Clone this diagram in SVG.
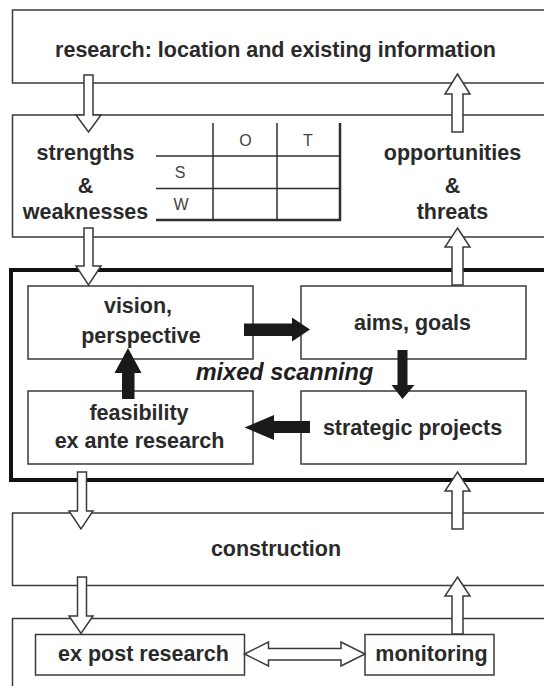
<svg xmlns="http://www.w3.org/2000/svg" width="544" height="686" viewBox="0 0 544 686">
  <defs>
    <style>
      .bg { fill: #ffffff; }
      .band { fill: #ffffff; stroke: #3a3a3a; stroke-width: 1.5; }
      .frame { fill: none; stroke: #111111; stroke-width: 4; }
      .box { fill: #ffffff; stroke: #3a3a3a; stroke-width: 1.5; }
      .hollow { fill: #ffffff; stroke: #3a3a3a; stroke-width: 1.5; stroke-linejoin: miter; }
      .solid { fill: #1a1a1a; stroke: none; }
      .grid { stroke: #2e2e2e; stroke-width: 1.5; fill: none; }
      .grid-bold { stroke: #2e2e2e; stroke-width: 2.5; fill: none; }
      .lbl { font-family: "Liberation Sans", Arial, sans-serif; font-size: 21.5px; font-weight: bold; fill: #2a2a2a; text-anchor: middle; }
      .em { font-family: "Liberation Sans", Arial, sans-serif; font-size: 23.5px; font-weight: bold; font-style: italic; fill: #1e1e1e; text-anchor: middle; }
      .cell { font-family: "Liberation Sans", Arial, sans-serif; font-size: 16px; fill: #444444; text-anchor: middle; }
    </style>
  </defs>

  <rect class="bg" x="0" y="0" width="544" height="686"/>

  <!-- horizontal bands (run off the right edge) -->
  <g id="research">
    <rect class="band" x="12.5" y="10" width="560" height="73"/>
    <text class="lbl" x="275.5" y="57">research: location and existing information</text>
  </g>

  <g id="swot">
    <rect class="band" x="12.5" y="115" width="560" height="122"/>
    <text class="lbl" x="85.5" y="160">strengths</text>
    <text class="lbl" x="85.5" y="193">&amp;</text>
    <text class="lbl" x="85.5" y="219">weaknesses</text>
    <text class="lbl" x="452.5" y="160">opportunities</text>
    <text class="lbl" x="452.5" y="193">&amp;</text>
    <text class="lbl" x="452.5" y="219">threats</text>
    <!-- SWOT matrix -->
    <line class="grid" x1="156" y1="156" x2="340" y2="156"/>
    <line class="grid" x1="156" y1="188.5" x2="340" y2="188.5"/>
    <line class="grid-bold" x1="156" y1="220" x2="341" y2="220"/>
    <line class="grid" x1="213" y1="123" x2="213" y2="220"/>
    <line class="grid" x1="277" y1="123" x2="277" y2="220"/>
    <line class="grid-bold" x1="340" y1="123" x2="340" y2="221"/>
    <text class="cell" x="245.5" y="146">O</text>
    <text class="cell" x="308" y="146">T</text>
    <text class="cell" x="180" y="178">S</text>
    <text class="cell" x="181" y="210">W</text>
  </g>

  <g id="mixed-scanning">
    <rect class="frame" x="11" y="270" width="570" height="210"/>
    <text class="em" x="284.5" y="380">mixed scanning</text>
  </g>

  <g id="vision">
    <rect class="box" x="28" y="286" width="225" height="73"/>
    <text class="lbl" x="138" y="313">vision,</text>
    <text class="lbl" x="141" y="343">perspective</text>
  </g>

  <g id="aims">
    <rect class="box" x="301" y="286" width="225" height="73"/>
    <text class="lbl" x="412.5" y="330">aims, goals</text>
  </g>

  <g id="feasibility">
    <rect class="box" x="28" y="391" width="225" height="73"/>
    <text class="lbl" x="139" y="420">feasibility</text>
    <text class="lbl" x="139.5" y="448">ex ante research</text>
  </g>

  <g id="projects">
    <rect class="box" x="301" y="391" width="225" height="73"/>
    <text class="lbl" x="412.5" y="435">strategic projects</text>
  </g>

  <g id="construction">
    <rect class="band" x="12.5" y="513" width="560" height="72.5"/>
    <text class="lbl" x="276" y="556">construction</text>
  </g>

  <g id="evaluation">
    <rect class="band" x="12.5" y="618.5" width="560" height="90"/>
  </g>

  <g id="ex-post">
    <rect class="box" x="35.5" y="634.5" width="209" height="40.5"/>
    <text class="lbl" x="143.5" y="661">ex post research</text>
  </g>

  <g id="monitoring">
    <rect class="box" x="365" y="634.5" width="129" height="40.5"/>
    <text class="lbl" x="431.5" y="661">monitoring</text>
  </g>

  <!-- connectors: hollow block arrows between bands, solid arrows in the cycle -->
  <g id="connectors">
    <polygon class="hollow" points="84,75 93,75 93,115 101,115 88.5,132 76,115 84,115"/>
    <polygon class="hollow" points="457.5,74 470,94 463,94 463,132 452,132 452,94 445,94"/>
    <polygon class="hollow" points="84,228 93,228 93,266 101,266 88.5,285 76,266 84,266"/>
    <polygon class="hollow" points="457.5,228 470,247 463,247 463,285 452,285 452,247 445,247"/>
    <polygon class="hollow" points="77.5,472 86.5,472 86.5,511 93,511 81,529 69,511 77.5,511"/>
    <polygon class="hollow" points="457.5,472 470,491 463,491 463,529 452,529 452,491 445,491"/>
    <polygon class="hollow" points="77.5,577 86.5,577 86.5,616 93,616 81,633.5 69,616 77.5,616"/>
    <polygon class="hollow" points="457.5,577 470,596 463,596 463,634 452,634 452,596 445,596"/>
    <polygon class="hollow" points="244.5,654 268.5,642 268.5,648.5 341,648.5 341,642 365,654 341,666 341,660 268.5,660 268.5,666"/>

    <polygon class="solid" points="244,323.5 292,323.5 292,317.5 310,329.5 292,341.5 292,336 244,336"/>
    <polygon class="solid" points="397.5,350 407.5,350 407.5,385 414.5,385 402.5,399 391.5,385 397.5,385"/>
    <polygon class="solid" points="310,421 310,433 274,433 274,440 244.5,427.5 274,415 274,421"/>
    <polygon class="solid" points="122,399 134.5,399 134.5,373 141.5,373 128,348 114.5,373 122,373"/>
  </g>
</svg>
